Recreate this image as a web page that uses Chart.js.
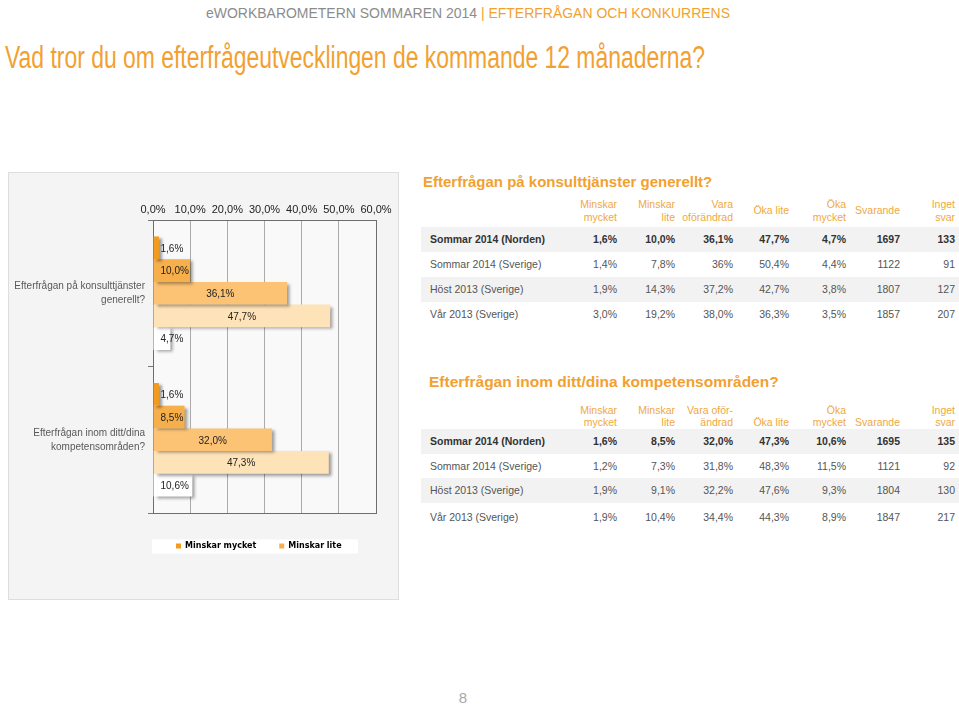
<!DOCTYPE html>
<html><head><meta charset="utf-8">
<script src="https://cdn.jsdelivr.net/npm/chart.js@4/dist/chart.umd.min.js"></script>
<style>
body{margin:0;width:959px;height:705px;background:#fff;position:relative;overflow:hidden;font-family:"Liberation Sans",Arial,sans-serif;}
.t{position:absolute;white-space:nowrap;line-height:1;}
#panel{position:absolute;left:8px;top:172px;width:389px;height:426px;background:#f4f4f4;border:1px solid #dedede;}
#cw{position:absolute;left:9px;top:173px;width:389px;height:381px;}
.band{position:absolute;left:421px;width:538px;height:25px;background:#f2f2f2;}
</style></head><body>
<div id="panel"></div>
<div id="cw"><canvas id="c" width="389" height="381"></canvas></div>
<script>
// ---------- data ----------
const categories = [['Efterfrågan på konsulttjänster','generellt?'],['Efterfrågan inom ditt/dina','kompetensområden?']];
const seriesNames = ['Minskar mycket','Minskar lite','Vara oförändrad','Öka lite','Öka mycket'];
const minskarMycket = [1.6, 1.6];
const minskarLite = [10.0, 8.5];
const varaOforandrad = [36.1, 32.0];
const okaLite = [47.7, 47.3];
const okaMycket = [4.7, 10.6];
const xTicks = [0,10,20,30,40,50,60];

const headerLeft = 'eWORKBAROMETERN SOMMAREN 2014 ';
const headerRight = '| EFTERFRÅGAN OCH KONKURRENS';
const mainTitle = 'Vad tror du om efterfrågeutvecklingen de kommande 12 månaderna?';
const pageNumber = '8';

const table1Title = 'Efterfrågan på konsulttjänster generellt?';
const table1Headers = [['Minskar','mycket'],['Minskar','lite'],['Vara','oförändrad'],['Öka lite'],['Öka','mycket'],['Svarande'],['Inget','svar']];
const table1Rows = [
  ['Sommar 2014 (Norden)','1,6%','10,0%','36,1%','47,7%','4,7%','1697','133'],
  ['Sommar 2014 (Sverige)','1,4%','7,8%','36%','50,4%','4,4%','1122','91'],
  ['Höst 2013 (Sverige)','1,9%','14,3%','37,2%','42,7%','3,8%','1807','127'],
  ['Vår 2013 (Sverige)','3,0%','19,2%','38,0%','36,3%','3,5%','1857','207']
];
const table2Title = 'Efterfrågan inom ditt/dina kompetensområden?';
const table2Headers = [['Minskar','mycket'],['Minskar','lite'],['Vara oför-','ändrad'],['Öka lite'],['Öka','mycket'],['Svarande'],['Inget','svar']];
const table2Rows = [
  ['Sommar 2014 (Norden)','1,6%','8,5%','32,0%','47,3%','10,6%','1695','135'],
  ['Sommar 2014 (Sverige)','1,2%','7,3%','31,8%','48,3%','11,5%','1121','92'],
  ['Höst 2013 (Sverige)','1,9%','9,1%','32,2%','47,6%','9,3%','1804','130'],
  ['Vår 2013 (Sverige)','1,9%','10,4%','34,4%','44,3%','8,9%','1847','217']
];

// ---------- page text ----------
const ORANGE = '#f2a131';
const HEAD_OR = '#efa83e';
function txt(s, x, y, css, align){
  const d = document.createElement('div');
  d.className = 't';
  d.textContent = s;
  Object.assign(d.style, css||{});
  d.style.top = y + 'px';
  document.body.appendChild(d);
  const w = d.getBoundingClientRect().width;
  if (align === 'right') d.style.left = (x - w) + 'px';
  else if (align === 'center') d.style.left = (x - w/2) + 'px';
  else d.style.left = x + 'px';
  d.style.transform = 'translateY(-50%)';
  return d;
}
function fitTo(d, x, width){
  const w = d.getBoundingClientRect().width;
  d.style.left = x + 'px';
  d.style.transformOrigin = 'left center';
  d.style.transform = 'translateY(-50%) scaleX(' + (width/w) + ')';
}
const hd = document.createElement('div');
hd.className = 't';
hd.style.fontSize = '15px';
hd.style.top = '12px';
hd.innerHTML = '<span style="color:#8c8c8c"></span><span style="color:' + ORANGE + '"></span>';
hd.children[0].textContent = headerLeft;
hd.children[1].textContent = headerRight;
document.body.appendChild(hd);
fitTo(hd, 206, 524);
const tt = txt(mainTitle, 5, 57, {fontSize:'31px', color:ORANGE});
fitTo(tt, 5, 700);
txt(pageNumber, 463, 697, {fontSize:'15px', color:'#a8a8a8'}, 'center');

const colRight = [617, 675, 733, 789, 846, 900, 955];
function drawTable(title, titleX, titleY, titleSize, headers, headY, rows, rowYs){
  rows.forEach((r, i) => {
    if (i % 2 === 0) {
      const b = document.createElement('div');
      b.className = 'band';
      b.style.top = (rowYs[i] - 12.5) + 'px';
      document.body.appendChild(b);
    }
  });
  txt(title, titleX, titleY, {fontSize:titleSize, fontWeight:'bold', color:ORANGE});
  headers.forEach((h, j) => {
    if (h.length === 2) {
      txt(h[0], colRight[j], headY[0], {fontSize:'10.5px', color:HEAD_OR}, 'right');
      txt(h[1], colRight[j], headY[1], {fontSize:'10.5px', color:HEAD_OR}, 'right');
    } else {
      txt(h[0], colRight[j], headY[2], {fontSize:'10.5px', color:HEAD_OR}, 'right');
    }
  });
  rows.forEach((r, i) => {
    const css = {fontSize:'10.5px', color: i === 0 ? '#333' : '#555', fontWeight: i === 0 ? 'bold' : 'normal'};
    txt(r[0], 430, rowYs[i], css);
    for (let j = 1; j < r.length; j++) txt(r[j], colRight[j-1], rowYs[i], css, 'right');
  });
}
drawTable(table1Title, 423, 181, '15px', table1Headers, [204, 217, 210], table1Rows, [239, 264, 289, 314]);
drawTable(table2Title, 429, 382, '15.5px', table2Headers, [410, 422, 422], table2Rows, [441, 466, 490, 517]);

// ---------- chart ----------
const seriesData = [minskarMycket, minskarLite, varaOforandrad, okaLite, okaMycket];
const colors = ['#f39b1f', '#f7af4b', '#fcc375', '#fee3b9', '#ffffff'];
const fmt = v => v.toFixed(1).replace('.', ',') + '%';

const decor = {
  id: 'decor',
  afterLayout(chart) {
    const lg = chart.legend, a = chart.chartArea;
    const w = lg.right - lg.left;
    lg.left = a.left; lg.right = a.left + w;
    lg.top += 6; lg.bottom += 6;
  },
  beforeDraw(chart) {
    const {ctx, chartArea: a} = chart;
    ctx.save();
    ctx.fillStyle = '#f9f9f9';
    ctx.fillRect(a.left, a.top, a.right - a.left, a.bottom - a.top);
    const lg = chart.legend;
    const cy = lg.top + lg.options.labels.padding + 4.5;
    ctx.fillStyle = '#ffffff';
    ctx.fillRect(a.left - 1, cy - 7, 206, 14);
    ctx.restore();
  },
  beforeDatasetsDraw(chart) {
    const {ctx, chartArea: a} = chart;
    ctx.save();
    ctx.strokeStyle = '#6e6e6e';
    ctx.lineWidth = 1;
    ctx.strokeRect(Math.round(a.left) + 0.5, Math.round(a.top) + 0.5, Math.round(a.right - a.left), Math.round(a.bottom - a.top));
    ctx.restore();
    ctx.save();
    ctx.shadowColor = 'rgba(0,0,0,0.38)';
    ctx.shadowOffsetX = 3;
    ctx.shadowOffsetY = 2;
    ctx.shadowBlur = 3;
  },
  afterDatasetsDraw(chart) {
    const ctx = chart.ctx;
    ctx.restore();
    ctx.save();
    ctx.font = '10px "Liberation Sans", Arial, sans-serif';
    ctx.fillStyle = '#222';
    ctx.textAlign = 'center';
    ctx.textBaseline = 'middle';
    chart.data.datasets.forEach((ds, di) => {
      chart.getDatasetMeta(di).data.forEach((bar, i) => {
        const s = fmt(ds.data[i]);
        const w = ctx.measureText(s).width;
        const x0 = bar.base, x1 = bar.x;
        const cx = Math.max((x0 + x1) / 2, x0 + 7 + w / 2);
        ctx.fillText(s, cx, bar.y + 1);
      });
    });
    ctx.restore();
  }
};

new Chart(document.getElementById('c'), {
  type: 'bar',
  data: {
    labels: categories,
    datasets: seriesNames.map((n, i) => ({
      label: n, data: seriesData[i], backgroundColor: colors[i], borderWidth: 0,
      categoryPercentage: 0.775, barPercentage: 1
    }))
  },
  options: {
    indexAxis: 'y', responsive: false, animation: false,
    layout: {padding: {left: 0, right: 22, top: 0, bottom: 0}},
    scales: {
      x: {
        position: 'top', min: 0, max: 60,
        afterBuildTicks(s) { s.ticks = xTicks.map(v => ({value: v})); },
        ticks: {callback: v => fmt(v), color: '#222', font: {size: 11, family: '"Liberation Sans", Arial'}, padding: 3, maxRotation: 0},
        grid: {color: '#ababab', drawTicks: false, lineWidth: 1},
        border: {display: false},
        afterFit(s) { s.height = 47; }
      },
      y: {
        ticks: {color: '#595959', font: {size: 10, family: '"Liberation Sans", Arial', lineHeight: 1.4}, padding: 3},
        grid: {drawOnChartArea: false, drawTicks: true, tickLength: 5, color: '#777', offset: true},
        border: {display: false},
        afterFit(s) { s.width = 144; }
      }
    },
    plugins: {
      legend: {
        position: 'bottom', align: 'start',
        labels: {
          filter: item => item.datasetIndex < 2,
          boxWidth: 5, boxHeight: 5, padding: 23, color: '#000',
          font: {size: 8, weight: 'bold', family: '"DejaVu Sans", Verdana'}
        }
      },
      tooltip: {enabled: false}
    }
  },
  plugins: [decor]
});
</script>
</body></html>
